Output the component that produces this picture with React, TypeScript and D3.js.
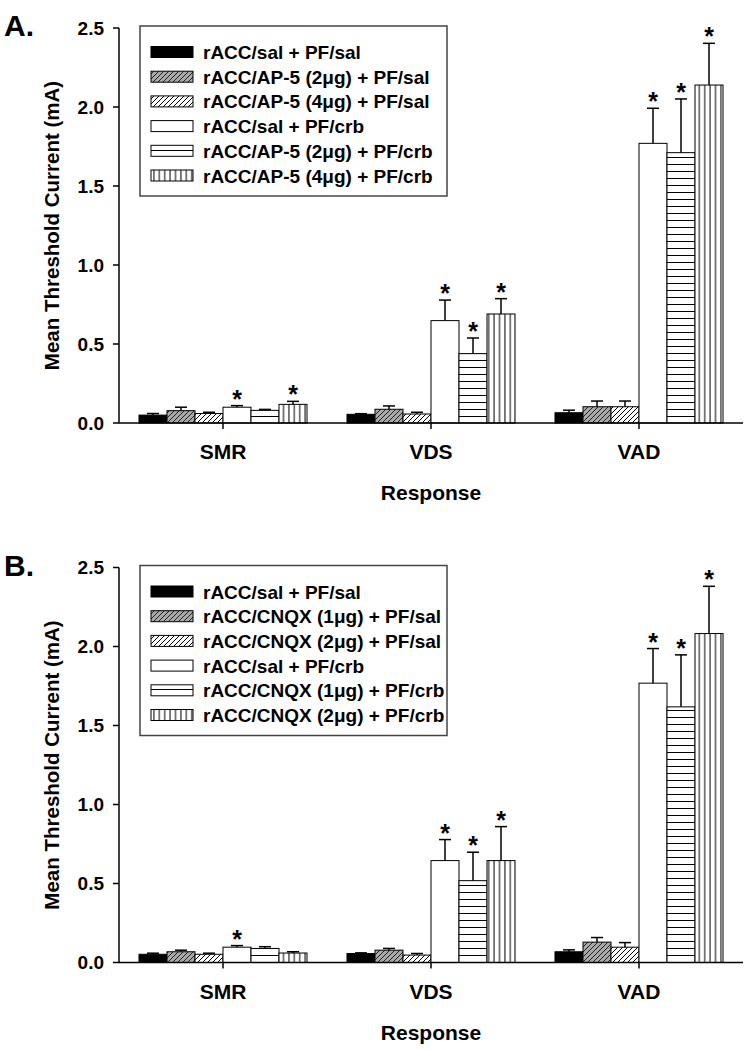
import React from "react";
import * as d3 from "d3";

const categories = ["SMR", "VDS", "VAD"];
const yTicks = [0, 0.5, 1.0, 1.5, 2.0, 2.5];

const seriesA = [
  "rACC/sal + PF/sal",
  "rACC/AP-5 (2\u03bcg) + PF/sal",
  "rACC/AP-5 (4\u03bcg) + PF/sal",
  "rACC/sal + PF/crb",
  "rACC/AP-5 (2\u03bcg) + PF/crb",
  "rACC/AP-5 (4\u03bcg) + PF/crb",
];
const seriesB = [
  "rACC/sal + PF/sal",
  "rACC/CNQX (1\u03bcg) + PF/sal",
  "rACC/CNQX (2\u03bcg) + PF/sal",
  "rACC/sal + PF/crb",
  "rACC/CNQX (1\u03bcg) + PF/crb",
  "rACC/CNQX (2\u03bcg) + PF/crb",
];

// means per series: [SMR, VDS, VAD]
const meansA = [
  [0.05, 0.055, 0.065],
  [0.078, 0.087, 0.103],
  [0.06, 0.057, 0.103],
  [0.1, 0.648, 1.77],
  [0.08, 0.439, 1.711],
  [0.118, 0.69, 2.139],
];
const errorsA = [
  [0.01, 0.004, 0.016],
  [0.022, 0.021, 0.036],
  [0.008, 0.011, 0.036],
  [0.01, 0.13, 0.222],
  [0.006, 0.099, 0.34],
  [0.019, 0.097, 0.264],
];
const starsA = [
  [0, 0, 0],
  [0, 0, 0],
  [0, 0, 0],
  [1, 1, 1],
  [0, 1, 1],
  [1, 1, 1],
];

const meansB = [
  [0.052, 0.057, 0.068],
  [0.068, 0.078, 0.129],
  [0.052, 0.047, 0.097],
  [0.097, 0.645, 1.768],
  [0.089, 0.518, 1.618],
  [0.06, 0.645, 2.082],
];
const errorsB = [
  [0.007, 0.004, 0.012],
  [0.01, 0.011, 0.029],
  [0.007, 0.01, 0.029],
  [0.01, 0.133, 0.219],
  [0.011, 0.18, 0.329],
  [0.008, 0.215, 0.299],
];
const starsB = [
  [0, 0, 0],
  [0, 0, 0],
  [0, 0, 0],
  [1, 1, 1],
  [0, 1, 1],
  [0, 1, 1],
];

const FONT = "'Liberation Sans', Arial, Helvetica, sans-serif";
const fills = [
  "#000000",
  "url(#hatchGray)",
  "url(#hatchWhite)",
  "#ffffff",
  "url(#horiz)",
  "url(#vert)",
];

const LEFT = 119;
const RIGHT = 743;
const PH = 395;

function Panel({ letter, top, series, means, errors, stars }) {
  const bottom = top + PH;
  const x0 = d3.scaleBand().domain(categories).range([LEFT, RIGHT]);
  const x1 = d3
    .scaleBand()
    .domain(series.map((_, i) => String(i)))
    .range([0, x0.bandwidth()])
    .paddingOuter(0.714);
  const y = d3.scaleLinear().domain([0, 2.5]).range([bottom, top]);
  const bw = x1.bandwidth();

  return (
    <g>
      <text x={4} y={top + 8} fontFamily={FONT} fontWeight="bold" fontSize={30}>
        {letter}
      </text>
      {/* bars */}
      {series.map((s, si) =>
        categories.map((c, ci) => {
          const v = means[si][ci];
          const e = errors[si][ci];
          const bx = x0(c) + x1(String(si));
          const cx = bx + bw / 2;
          const capY = y(v + e);
          return (
            <g key={s + c}>
              <rect
                x={bx}
                y={y(v)}
                width={bw}
                height={bottom - y(v)}
                fill={fills[si]}
                stroke="#000"
                strokeWidth={1}
              />
              <line x1={cx} x2={cx} y1={y(v)} y2={capY} stroke="#000" strokeWidth={1.5} />
              <line x1={cx - 6} x2={cx + 6} y1={capY} y2={capY} stroke="#000" strokeWidth={1.5} />
              {stars[si][ci] ? (
                <text
                  x={cx}
                  y={capY + 2}
                  textAnchor="middle"
                  fontFamily={FONT}
                  fontWeight="bold"
                  fontSize={25}
                >
                  *
                </text>
              ) : null}
            </g>
          );
        })
      )}
      {/* axes */}
      <line x1={LEFT} x2={LEFT} y1={top} y2={bottom} stroke="#000" strokeWidth={1.5} />
      <line x1={LEFT} x2={RIGHT} y1={bottom} y2={bottom} stroke="#000" strokeWidth={1.5} />
      {yTicks.map((t) => (
        <g key={t}>
          <line x1={LEFT - 6} x2={LEFT} y1={y(t)} y2={y(t)} stroke="#000" strokeWidth={1.5} />
          <text
            x={104}
            y={y(t) + 6.5}
            textAnchor="end"
            fontFamily={FONT}
            fontWeight="bold"
            fontSize={19}
          >
            {t.toFixed(1)}
          </text>
        </g>
      ))}
      {categories.map((c) => {
        const cx = x0(c) + x0.bandwidth() / 2;
        return (
          <g key={c}>
            <line x1={cx} x2={cx} y1={bottom} y2={bottom + 6} stroke="#000" strokeWidth={1.5} />
            <text
              x={cx}
              y={bottom + 36}
              textAnchor="middle"
              fontFamily={FONT}
              fontWeight="bold"
              fontSize={21}
            >
              {c}
            </text>
          </g>
        );
      })}
      <text
        x={(LEFT + RIGHT) / 2}
        y={bottom + 77}
        textAnchor="middle"
        fontFamily={FONT}
        fontWeight="bold"
        fontSize={21}
      >
        Response
      </text>
      <text
        transform={`translate(59,${(top + bottom) / 2}) rotate(-90)`}
        textAnchor="middle"
        fontFamily={FONT}
        fontWeight="bold"
        fontSize={20.5}
      >
        Mean Threshold Current (mA)
      </text>
      {/* legend */}
      <rect
        x={140}
        y={top - 2}
        width={307}
        height={170}
        fill="#fff"
        stroke="#444"
        strokeWidth={1.5}
      />
      {series.map((s, si) => {
        const cy = top + 24 + si * 24.7;
        return (
          <g key={s}>
            <rect x={151} y={cy - 5.5} width={42} height={11} fill={fills[si]} stroke="#000" strokeWidth={1} />
            <text x={203} y={cy + 7} fontFamily={FONT} fontWeight="bold" fontSize={19}>
              {s}
            </text>
          </g>
        );
      })}
    </g>
  );
}

export default function App() {
  return (
    <svg
      width={750}
      height={1050}
      style={{ position: "absolute", left: 0, top: 0, background: "#fff" }}
    >
      <defs>
        <pattern id="hatchGray" patternUnits="userSpaceOnUse" width={5} height={5}>
          <rect width={5} height={5} fill="#a8a8a8" />
          <path d="M-1,1 l2,-2 M0,5 l5,-5 M4,6 l2,-2" stroke="#222" strokeWidth={1} />
        </pattern>
        <pattern id="hatchWhite" patternUnits="userSpaceOnUse" width={5} height={5}>
          <rect width={5} height={5} fill="#fff" />
          <path d="M-1,1 l2,-2 M0,5 l5,-5 M4,6 l2,-2" stroke="#000" strokeWidth={1} />
        </pattern>
        <pattern id="horiz" patternUnits="userSpaceOnUse" width={7} height={7}>
          <rect width={7} height={7} fill="#fff" />
          <line x1={0} x2={7} y1={3.5} y2={3.5} stroke="#000" strokeWidth={1} />
        </pattern>
        <pattern id="vert" patternUnits="userSpaceOnUse" width={5.4} height={5.4}>
          <rect width={5.4} height={5.4} fill="#fff" />
          <line x1={2.7} x2={2.7} y1={0} y2={5.4} stroke="#000" strokeWidth={1} />
        </pattern>
      </defs>
      <rect width={750} height={1050} fill="#fff" />
      <Panel letter="A." top={28} series={seriesA} means={meansA} errors={errorsA} stars={starsA} />
      <Panel letter="B." top={567.5} series={seriesB} means={meansB} errors={errorsB} stars={starsB} />
    </svg>
  );
}
